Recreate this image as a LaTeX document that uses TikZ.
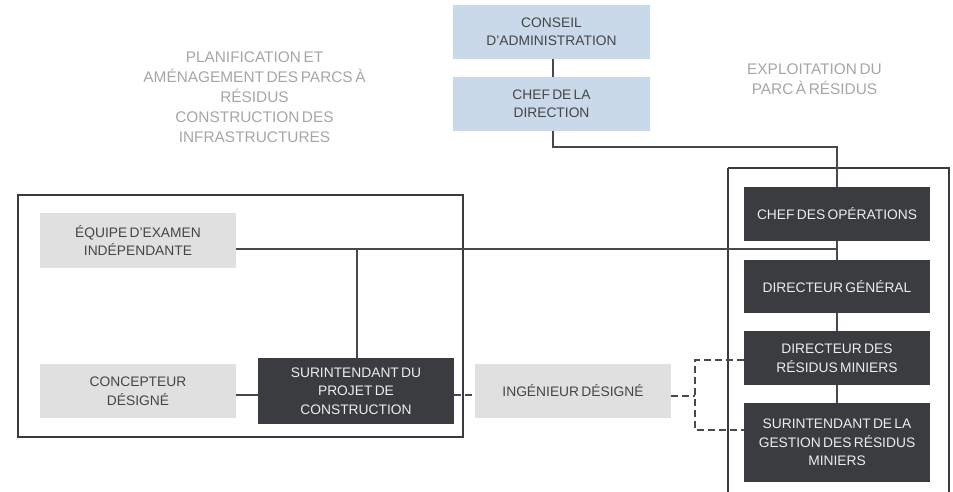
\documentclass[tikz,border=0pt]{standalone}
\usepackage{fontspec}
\setmainfont[WordSpace=0.6]{Liberation Sans}
\begin{document}
\begin{tikzpicture}[x=1pt,y=-1pt,
  box/.style={inner sep=0pt, align=center, font=\fontsize{13.8}{18.5}\selectfont},
  darkbox/.style={box, fill=boxdark, text=boxtextlight},
  greybox/.style={box, fill=boxgrey, text=textdark},
  bluebox/.style={box, fill=boxblue, text=textdark},
  link/.style={draw=linegrey, line width=1.6pt},
  dlink/.style={link, dash pattern=on 7pt off 4pt},
  frame/.style={draw=framegrey, line width=2pt},
  heading/.style={align=center, text=headgrey, inner sep=0pt, font=\fontsize{15.4}{20}\selectfont}]
\definecolor{boxdark}{HTML}{3B3C40}
\definecolor{boxgrey}{HTML}{E0E0E0}
\definecolor{boxblue}{HTML}{CAD9EA}
\definecolor{textdark}{HTML}{454545}
\definecolor{boxtextlight}{HTML}{EDEDED}
\definecolor{linegrey}{HTML}{48494C}
\definecolor{framegrey}{HTML}{3A3B3E}
\definecolor{headgrey}{HTML}{A6A6A6}
\useasboundingbox (0,0) rectangle (953,492);

% section frames
\draw[frame] (18,195) rectangle (463,437);
\draw[frame] (728,168) -- (728,500) (728,168) -- (949,168) -- (949,500);

% section headings
\node[heading] (hplan) at (254.5,97.5) {PLANIFICATION ET\\AMÉNAGEMENT DES PARCS À\\RÉSIDUS\\CONSTRUCTION DES\\INFRASTRUCTURES};
\node[heading] (hexpl) at (814.5,79) {EXPLOITATION DU\\PARC À RÉSIDUS};

% governance
\node[bluebox, minimum width=197pt, minimum height=54pt] (conseil) at (551.5,32) {CONSEIL\\D’ADMINISTRATION};
\node[bluebox, minimum width=197pt, minimum height=54pt] (chef) at (551.5,104) {CHEF DE LA\\DIRECTION};

% operations
\node[darkbox, minimum width=186pt, minimum height=54pt] (ops) at (837,214) {CHEF DES OPÉRATIONS};
\node[darkbox, minimum width=186pt, minimum height=53pt] (dg) at (837,286.5) {DIRECTEUR GÉNÉRAL};
\node[darkbox, minimum width=186pt, minimum height=54pt] (drm) at (837,358) {DIRECTEUR DES\\RÉSIDUS MINIERS};
\node[darkbox, minimum width=186pt, minimum height=79pt] (sgrm) at (837,442.5) {SURINTENDANT DE LA\\GESTION DES RÉSIDUS\\MINIERS};

% construction
\node[greybox, minimum width=196pt, minimum height=55pt] (equipe) at (138,240.5) {ÉQUIPE D’EXAMEN\\INDÉPENDANTE};
\node[greybox, minimum width=196pt, minimum height=54pt] (concept) at (138,391) {CONCEPTEUR\\DÉSIGNÉ};
\node[darkbox, minimum width=196pt, minimum height=66pt] (spc) at (356,391) {SURINTENDANT DU\\PROJET DE\\CONSTRUCTION};
\node[greybox, minimum width=196pt, minimum height=54pt] (ing) at (573,391) {INGÉNIEUR DÉSIGNÉ};

% junctions
\coordinate (top) at (837,147);
\coordinate (spine) at (837,249);
\coordinate (brk) at (695,396);
\coordinate (brkup) at (695,360);
\coordinate (brkdn) at (695,430);

% solid links
\draw[link] ([xshift=1.5pt]conseil.south) -- ([xshift=1.5pt]chef.north);
\draw[link] ([xshift=1.5pt]chef.south) |- (top) -- (ops.north);
\draw[link] (ops.south) -- (dg.north);
\draw[link] (dg.south) -- (drm.north);
\draw[link] (drm.south) -- (sgrm.north);
\draw[link] ([yshift=-8.5pt]equipe.east) -- (spine);
\draw[link] ([xshift=1pt]spc.north) -- ([xshift=1pt]spc.north |- spine);
\draw[link] ([yshift=-4pt]concept.east) -- ([yshift=-4pt]spc.west);

% dashed links
\draw[dlink] ([yshift=-4pt]spc.east) -- ([yshift=-4pt]ing.west);
\draw[dlink] ([yshift=-5pt]ing.east) -- (brk);
\draw[dlink] (drm.west |- brkup) -- (brkup) -- (brkdn) -- (sgrm.west |- brkdn);
\end{tikzpicture}
\end{document}
